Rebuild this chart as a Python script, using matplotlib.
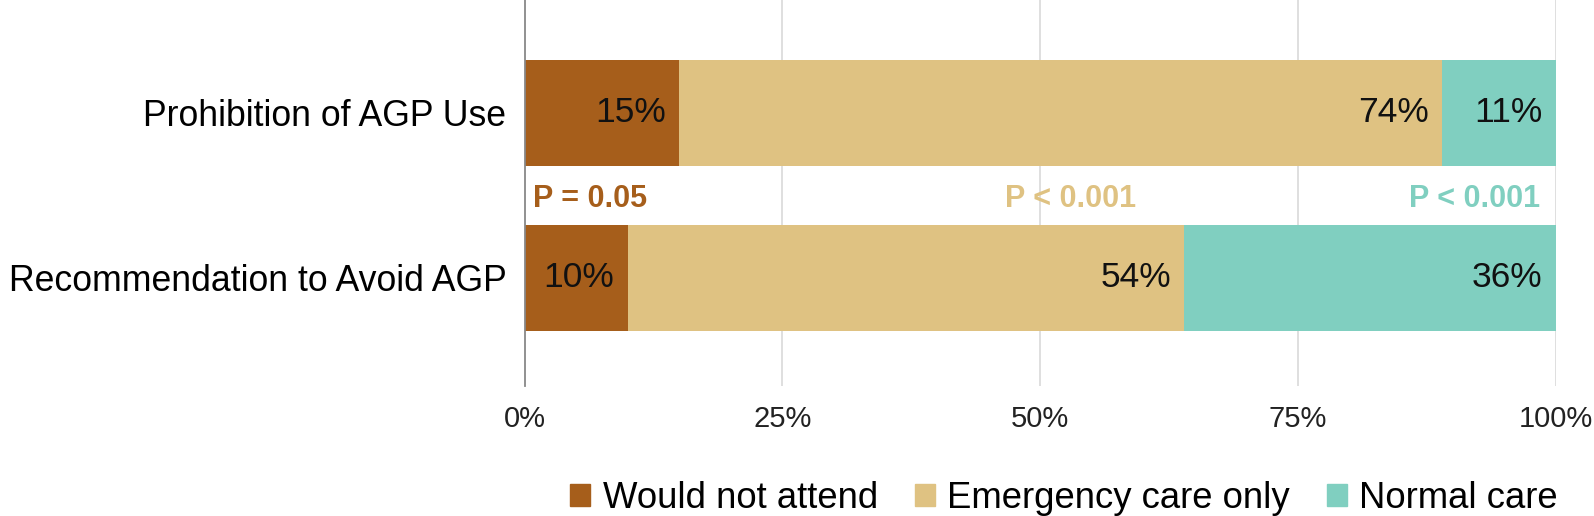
import matplotlib.pyplot as plt
import matplotlib.patches as mpatches
import numpy as np

# data
categories = ["Prohibition of AGP Use", "Recommendation to Avoid AGP"]
series = ["Would not attend", "Emergency care only", "Normal care"]
would_not = [15, 10]
emergency = [74, 54]
normal = [11, 36]
p_labels = ["P = 0.05", "P < 0.001", "P < 0.001"]
xticks = [0, 25, 50, 75, 100]

COLORS = ["#A65E1B", "#DFC282", "#80CFC0"]
FONT = ["Liberation Sans", "DejaVu Sans"]

plt.rcParams["font.family"] = FONT

W, H = 1594, 516
fig = plt.figure(figsize=(W / 100, H / 100), dpi=100)
# plot area in pixels: x 524..1555, y 0..386
ax = fig.add_axes([524.5 / W, 1 - 386 / H, (1555.5 - 524.5) / W, 386 / H])

y = np.arange(len(categories))
values = [would_not, emergency, normal]
left = np.zeros(len(categories))
for vals, color, name in zip(values, COLORS, series):
    vals = np.array(vals, dtype=float)
    ax.barh(y, vals, left=left, height=0.64, color=color, label=name, zorder=2)
    for yi, (l, v) in enumerate(zip(left, vals)):
        ax.text(l + v - 1.3, yi, f"{int(v)}%", ha="right", va="center",
                fontsize=25.5, color="#111111", zorder=3)
    left += vals

# p-value annotations between bars
ax.text(0.8, 0.52, p_labels[0], ha="left", va="center", fontsize=22,
        fontweight="bold", color=COLORS[0])
ax.text(53.0, 0.52, p_labels[1], ha="center", va="center", fontsize=22,
        fontweight="bold", color=COLORS[1])
ax.text(98.5, 0.52, p_labels[2], ha="right", va="center", fontsize=22,
        fontweight="bold", color=COLORS[2])

ax.set_xlim(0, 100)
ax.set_ylim(1.655, -0.683)
ax.set_yticks(y)
ax.set_yticklabels(categories, fontsize=25.7)
ax.set_xticks(xticks)
ax.set_xticklabels([f"{t}%" for t in xticks], fontsize=21, color="#222222")
ax.tick_params(axis="both", length=0)
ax.tick_params(axis="y", pad=13)
ax.tick_params(axis="x", pad=14)
for t in xticks[1:]:
    ax.axvline(t, color="#d9d9d9", linewidth=1.2, zorder=1)
for s in ["top", "right", "bottom"]:
    ax.spines[s].set_visible(False)
ax.spines["left"].set_color("#888888")
ax.spines["left"].set_linewidth(1.3)

handles = [mpatches.Patch(color=c, label=s) for c, s in zip(COLORS, series)]
fig.legend(handles=handles, loc="center", bbox_to_anchor=(1064 / W, 1 - 498 / H),
           ncol=3, frameon=False, fontsize=26.3, handlelength=0.55, handleheight=0.55,
           handletextpad=0.35, columnspacing=1.0)

fig.savefig("out.png", dpi=100)
